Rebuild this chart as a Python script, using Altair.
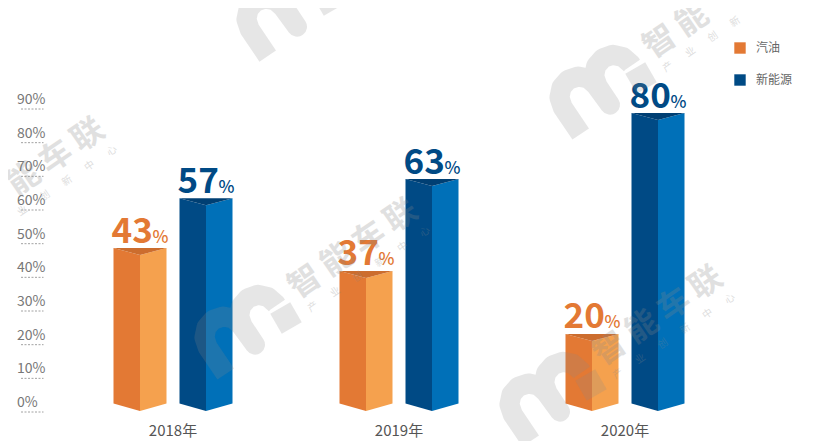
import altair as alt
import pandas as pd

# ---- chart values -------------------------------------------------------
years = ["2018年", "2019年", "2020年"]
series = ["汽油", "新能源"]
labels_oil = [43, 37, 20]
labels_ev = [57, 63, 80]
# bar tops as they stand against the printed axis (drawn taller than labelled)
tops_oil = [48.7, 41.9, 23.2]
tops_ev = [63.5, 69.2, 88.8]
ticks = [0, 10, 20, 30, 40, 50, 60, 70, 80, 90]

# ---- styling ------------------------------------------------------------
FONT = "Noto Sans CJK SC"
LEFT = {"汽油": "#E37934", "新能源": "#004A85"}
RIGHT = {"汽油": "#F5A14E", "新能源": "#0070B8"}
TOP = {"汽油": "#CC6D2E", "新能源": "#003F73"}
OFFSET = 33 / 226      # series offset from the group centre (x units)
HALF = 26.5 / 226      # half bar width
DEPTH = 2.1            # chevron depth (y units)
FOOT = 2.5             # outer bottom corner of the prism
TIP = 0.3              # middle bottom corner of the prism

W, H = 804, 433
X_DOMAIN = [-165 / 226, 639 / 226]
Y_DOMAIN = [-8.61, 120]


def dx(px):
    return (px - 173) / 226


def dy(px):
    return (412 - px) / 3.367


xs = alt.Scale(domain=X_DOMAIN, nice=False, zero=False)
ys = alt.Scale(domain=Y_DOMAIN, nice=False, zero=False)
X = alt.X("x:Q", scale=xs, axis=None)
Y = alt.Y("y:Q", scale=ys, axis=None)

# ---- prism faces --------------------------------------------------------
left_rows, right_rows, top_rows, label_rows = [], [], [], []
for i, year in enumerate(years):
    for s, sign, tops, labs in (
        ("汽油", -1, tops_oil, labels_oil),
        ("新能源", 1, tops_ev, labels_ev),
    ):
        c = i + sign * OFFSET
        xl, xr = c - HALF, c + HALF
        t = tops[i]
        bar = f"{year}-{s}"
        left_rows += [
            dict(bar=bar, series=s, x=xl, y=t, y2=FOOT),
            dict(bar=bar, series=s, x=c, y=t - DEPTH, y2=TIP),
        ]
        right_rows += [
            dict(bar=bar, fill=RIGHT[s], x=c, y=t - DEPTH, y2=TIP),
            dict(bar=bar, fill=RIGHT[s], x=xr, y=t, y2=FOOT),
        ]
        top_rows += [
            dict(bar=bar, fill=TOP[s], x=xl, y=t, y2=t),
            dict(bar=bar, fill=TOP[s], x=c, y=t - DEPTH, y2=t),
            dict(bar=bar, fill=TOP[s], x=xr, y=t, y2=t),
        ]
        label_rows.append(dict(x=xl, y=t, num=str(labs[i]), pct="%", fill=LEFT[s], series=s))

color = alt.Color(
    "series:N",
    scale=alt.Scale(domain=series, range=[LEFT[s] for s in series]),
    legend=alt.Legend(
        title=None,
        orient="none",
        legendX=726,
        legendY=34,
        symbolType="square",
        symbolSize=130,
        symbolStrokeWidth=0,
        rowPadding=20,
        labelFontSize=12,
        labelFont=FONT,
        labelColor="#666666",
        labelOffset=10,
    ),
)

left_face = alt.Chart(pd.DataFrame(left_rows)).mark_area(interpolate="linear", opacity=1).encode(
    x=X, y=Y, y2="y2:Q", detail="bar:N", color=color
)
right_face = alt.Chart(pd.DataFrame(right_rows)).mark_area(interpolate="linear").encode(
    x=X, y=Y, y2="y2:Q", detail="bar:N", color=alt.Color("fill:N", scale=None)
)
top_face = alt.Chart(pd.DataFrame(top_rows)).mark_area(interpolate="linear").encode(
    x=X, y=Y, y2="y2:Q", detail="bar:N", color=alt.Color("fill:N", scale=None)
)

labels = pd.DataFrame(label_rows)
num_text = alt.Chart(labels).mark_text(
    align="left", baseline="alphabetic", dy=-5.5, dx=-2, font=FONT, fontSize=35, fontWeight="bold"
).encode(x=X, y=Y, text="num:N", color=alt.Color("fill:N", scale=None))
pct_text = alt.Chart(labels).mark_text(
    align="left", baseline="alphabetic", dy=-5.5, dx=39, font=FONT, fontSize=17, fontWeight=500
).encode(x=X, y=Y, text="pct:N", color=alt.Color("fill:N", scale=None))

# ---- axis ---------------------------------------------------------------
tick_df = pd.DataFrame(
    {"y": ticks, "x": [dx(21)] * len(ticks), "x2": [dx(43.5)] * len(ticks),
     "xt": [dx(17)] * len(ticks), "label": [f"{t}%" for t in ticks]}
)
tick_rules = alt.Chart(tick_df).mark_rule(color="#8a8a8a", strokeDash=[2, 1.5], strokeWidth=0.8).encode(
    x=X, x2="x2:Q", y=Y
)
tick_text = alt.Chart(tick_df).mark_text(
    align="left", baseline="alphabetic", dy=-5, font=FONT, fontSize=14, color="#777777"
).encode(x=alt.X("xt:Q", scale=xs, axis=None), y=Y, text="label:N")

year_df = pd.DataFrame({"x": [0, 1, 2], "y": [dy(436)] * 3, "label": years})
year_text = alt.Chart(year_df).mark_text(
    align="center", baseline="alphabetic", font=FONT, fontSize=15, color="#555555"
).encode(x=X, y=Y, text="label:N")

# ---- watermark ----------------------------------------------------------
logo_dots = [(286, 318), (641, 78), (591, 385), (328, 0)]
text_only = [(-27, 237)]
# logo stroke centre-line, relative to the square dot of the mark
logo_dx = [-60.3, -78.3, -81.6, -79.5, -72.7, -62.9, -52.8, -45.1, -31, -43.6,
           -46.9, -44.8, -38, -28.2, -18.1, -10.4, -9.3]
logo_dy = [56, 29.3, 19.5, 9.4, 1.7, -1.6, 0.5, 7.3, 26.7, 7.7,
           -2.1, -12.2, -19.9, -23.2, -21.1, -14.3, -12.7]
name_chars = list("智能车联")
sub_chars = list("产业创新中心")


def on_page(px, py):
    return 12 <= px <= 808 and 12 <= py <= 436


line_rows, dot_rows, name_rows, sub_rows = [], [], [], []
for k, (ax, ay) in enumerate(logo_dots):
    for j, (ox, oy) in enumerate(zip(logo_dx, logo_dy)):
        line_rows.append(dict(logo=k, o=j, x=dx(ax + ox), y=dy(ay + oy)))
    dot_rows.append(dict(x=dx(ax), y=dy(ay)))
for ax, ay in logo_dots + text_only:
    for j, ch in enumerate(name_chars):
        px, py = ax + 19 + 32 * j, ay - 36 - 22 * j
        if on_page(px, py):
            name_rows.append(dict(x=dx(px), y=dy(py), t=ch))
    for j, ch in enumerate(sub_chars):
        px, py = ax + 27 + 22.4 * j, ay - 11 - 15 * j
        if on_page(px, py):
            sub_rows.append(dict(x=dx(px), y=dy(py), t=ch))

logo_line = alt.Chart(pd.DataFrame(line_rows)).mark_line(
    color="#888888", opacity=0.21, strokeWidth=20, strokeJoin="round", strokeCap="butt", clip=True
).encode(x=X, y=Y, detail="logo:N", order="o:Q")
logo_dot = alt.Chart(pd.DataFrame(dot_rows)).mark_point(
    shape="square", filled=True, size=530, angle=60, color="#888888", opacity=0.21
).encode(x=X, y=Y)
name_text = alt.Chart(pd.DataFrame(name_rows)).mark_text(
    font=FONT, fontSize=32, fontWeight="bold", angle=325.5, color="#888888", opacity=0.25,
    align="center", baseline="middle"
).encode(x=X, y=Y, text="t:N")
sub_text = alt.Chart(pd.DataFrame(sub_rows)).mark_text(
    font=FONT, fontSize=10, angle=325.5, color="#888888", opacity=0.28, align="center", baseline="middle"
).encode(x=X, y=Y, text="t:N")

chart = (
    alt.layer(
        right_face, left_face, top_face, num_text, pct_text,
        tick_rules, tick_text, year_text,
        logo_line, logo_dot, name_text, sub_text,
    )
    .resolve_scale(color="independent")
    .properties(width=W, height=H, padding=0, autosize=alt.AutoSizeParams(type="none"), background="white")
    .configure_view(stroke=None)
)

chart.save("out.html", embed_options={"renderer": "svg", "actions": False})
